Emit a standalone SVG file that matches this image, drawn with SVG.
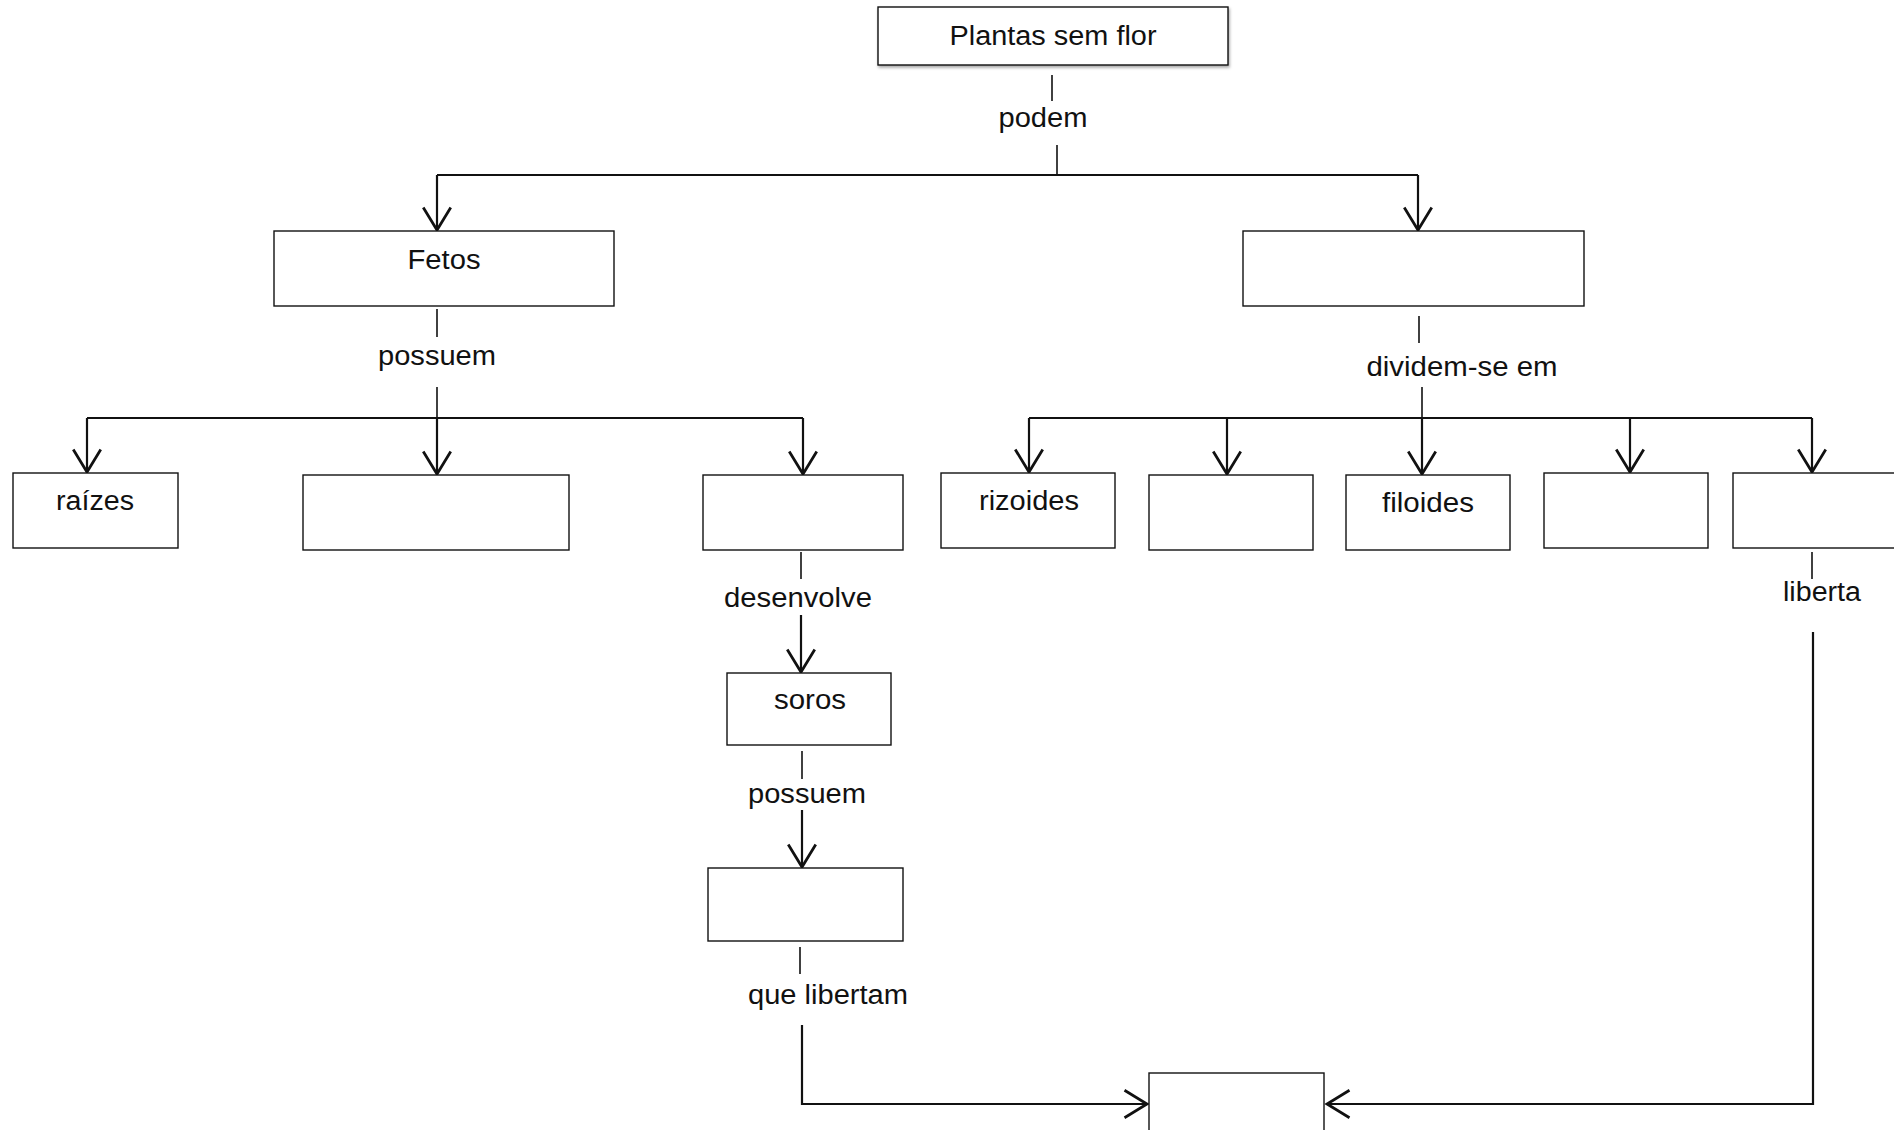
<svg xmlns="http://www.w3.org/2000/svg" width="1894" height="1130" viewBox="0 0 1894 1130">
<style>
.box{fill:#fff;stroke:#111;stroke-width:1.4}
.t{font-family:"Liberation Sans",Arial,sans-serif;font-size:27px;fill:#111;text-anchor:middle}
.c{stroke:#111;stroke-width:2.2;fill:none}
.s{stroke:#111;stroke-width:1.6;fill:none}
</style>
<defs>
<marker id="ah" markerUnits="userSpaceOnUse" markerWidth="30" markerHeight="30" viewBox="-20 -12 22 24" refX="0" refY="0" orient="auto">
<path d="M-18,-11 L0,0 L-18,11" fill="none" stroke="#111" stroke-width="2.2"/>
</marker>
<filter id="sh" x="-5%" y="-20%" width="110%" height="150%"><feDropShadow dx="1" dy="2" stdDeviation="1.5" flood-color="#000" flood-opacity="0.35"/></filter>
</defs>
<rect width="1894" height="1130" fill="#fff"/>
<g id="connectors">
<line class="s" x1="1052" y1="75" x2="1052" y2="101"/>
<line class="s" x1="1057" y1="145" x2="1057" y2="174"/>
<line class="c" x1="437" y1="175" x2="1418" y2="175"/>
<path class="c" d="M437,175 V230" marker-end="url(#ah)"/>
<path class="c" d="M1418,175 V230" marker-end="url(#ah)"/>
<line class="s" x1="437" y1="309" x2="437" y2="337"/>
<line class="s" x1="437" y1="387" x2="437" y2="417"/>
<line class="c" x1="87" y1="418" x2="803" y2="418"/>
<path class="c" d="M87,418 V472" marker-end="url(#ah)"/>
<path class="c" d="M437,418 V474" marker-end="url(#ah)"/>
<path class="c" d="M803,418 V474" marker-end="url(#ah)"/>
<line class="s" x1="801" y1="552" x2="801" y2="579"/>
<path class="c" d="M801,615 V672" marker-end="url(#ah)"/>
<line class="s" x1="802" y1="751" x2="802" y2="779"/>
<path class="c" d="M802,810 V867" marker-end="url(#ah)"/>
<line class="s" x1="800" y1="947" x2="800" y2="974"/>
<path class="c" d="M802,1025 V1104 H1147" marker-end="url(#ah)"/>
<line class="s" x1="1419" y1="316" x2="1419" y2="343"/>
<line class="s" x1="1422" y1="387" x2="1422" y2="417"/>
<line class="c" x1="1029" y1="418" x2="1812" y2="418"/>
<path class="c" d="M1029,418 V472" marker-end="url(#ah)"/>
<path class="c" d="M1227,418 V474" marker-end="url(#ah)"/>
<path class="c" d="M1422,418 V474" marker-end="url(#ah)"/>
<path class="c" d="M1630,418 V472" marker-end="url(#ah)"/>
<path class="c" d="M1812,418 V472" marker-end="url(#ah)"/>
<line class="s" x1="1812" y1="552" x2="1812" y2="579"/>
<path class="c" d="M1813,632 V1104 H1327" marker-end="url(#ah)"/>
<text class="t" x="1043" y="127" textLength="89" lengthAdjust="spacingAndGlyphs">podem</text>
<text class="t" x="437" y="365" textLength="118" lengthAdjust="spacingAndGlyphs">possuem</text>
<text class="t" x="798" y="607" textLength="148" lengthAdjust="spacingAndGlyphs">desenvolve</text>
<text class="t" x="807" y="803" textLength="118" lengthAdjust="spacingAndGlyphs">possuem</text>
<text class="t" x="828" y="1004" textLength="160" lengthAdjust="spacingAndGlyphs">que libertam</text>
<text class="t" x="1462" y="376" textLength="191" lengthAdjust="spacingAndGlyphs">dividem-se em</text>
<text class="t" x="1822" y="601" textLength="78" lengthAdjust="spacingAndGlyphs">liberta</text>
</g>
<g id="plantas"><rect class="box" x="878" y="7" width="350" height="58" filter="url(#sh)"/><text class="t" x="1053" y="45" textLength="207" lengthAdjust="spacingAndGlyphs">Plantas sem flor</text></g>
<g id="fetos"><rect class="box" x="274" y="231" width="340" height="75"/><text class="t" x="444" y="269" textLength="73" lengthAdjust="spacingAndGlyphs">Fetos</text></g>
<g id="musgos"><rect class="box" x="1243" y="231" width="341" height="75"/></g>
<g id="raizes"><rect class="box" x="13" y="473" width="165" height="75"/><text class="t" x="95" y="510" textLength="78" lengthAdjust="spacingAndGlyphs">raízes</text></g>
<g id="fetos-b2"><rect class="box" x="303" y="475" width="266" height="75"/></g>
<g id="fetos-b3"><rect class="box" x="703" y="475" width="200" height="75"/></g>
<g id="soros"><rect class="box" x="727" y="673" width="164" height="72"/><text class="t" x="810" y="709" textLength="72" lengthAdjust="spacingAndGlyphs">soros</text></g>
<g id="soros-b"><rect class="box" x="708" y="868" width="195" height="73"/></g>
<g id="final"><rect class="box" x="1149" y="1073" width="175" height="100"/></g>
<g id="rizoides"><rect class="box" x="941" y="473" width="174" height="75"/><text class="t" x="1029" y="510" textLength="100" lengthAdjust="spacingAndGlyphs">rizoides</text></g>
<g id="musgos-b2"><rect class="box" x="1149" y="475" width="164" height="75"/></g>
<g id="filoides"><rect class="box" x="1346" y="475" width="164" height="75"/><text class="t" x="1428" y="512" textLength="92" lengthAdjust="spacingAndGlyphs">filoides</text></g>
<g id="musgos-b4"><rect class="box" x="1544" y="473" width="164" height="75"/></g>
<g id="musgos-b5"><rect class="box" x="1733" y="473" width="200" height="75"/></g>
</svg>
